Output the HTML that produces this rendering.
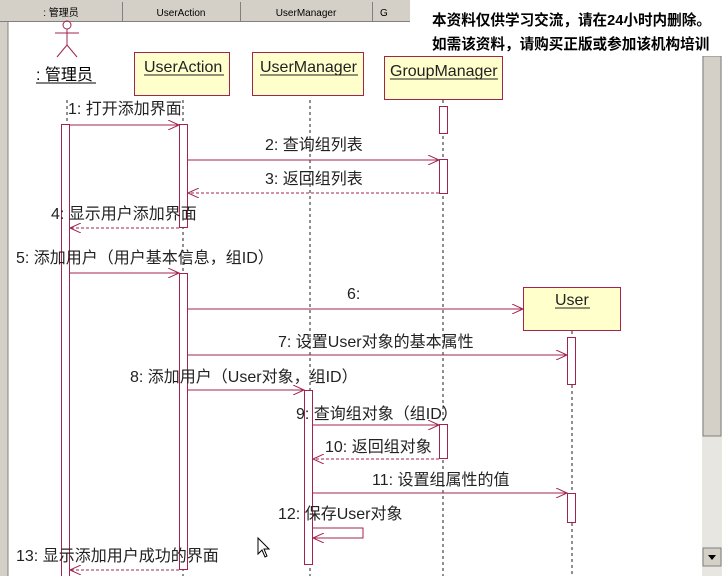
<!DOCTYPE html>
<html><head><meta charset="utf-8"><style>
html,body{margin:0;padding:0;width:722px;height:576px;overflow:hidden;background:#fff}
svg{display:block}
text{font-family:"Liberation Sans","Noto Sans CJK SC",sans-serif}
</style></head><body>
<svg width="722" height="576" viewBox="0 0 722 576" xmlns="http://www.w3.org/2000/svg">
<defs>
<marker id="a" markerWidth="12" markerHeight="10" refX="11" refY="5" orient="auto" markerUnits="userSpaceOnUse"><path d="M0,0 L11,5 L0,10" fill="none" stroke="#a3234f" stroke-width="1"/></marker>
</defs>
<rect width="722" height="576" fill="#fff"/>
<rect x="0" y="0" width="8" height="576" fill="#d4d0c8"/>
<line x1="8" y1="22" x2="8" y2="576" stroke="#808080"/>
<rect x="0" y="0" width="722" height="22" fill="#d4d0c8"/>
<line x1="0" y1="21.5" x2="722" y2="21.5" stroke="#808080"/>
<line x1="122.5" y1="2" x2="122.5" y2="21" stroke="#808080"/><line x1="240.5" y1="2" x2="240.5" y2="21" stroke="#808080"/><line x1="372.5" y1="2" x2="372.5" y2="21" stroke="#808080"/>
<text x="61" y="16" font-size="10" text-anchor="middle">: 管理员</text>
<text x="181" y="16" font-size="10" text-anchor="middle">UserAction</text>
<text x="306" y="16" font-size="10" text-anchor="middle">UserManager</text>
<text x="380" y="16" font-size="10">G</text>
<rect x="702" y="55" width="20" height="521" fill="#e8e6e0"/>
<rect x="703" y="56" width="18" height="380" fill="#d4d0c8" stroke="#808080"/>
<rect x="703" y="548" width="18" height="18" fill="#d4d0c8" stroke="#808080"/>
<path d="M708,555 L716,555 L712,560Z" fill="#000"/>
<rect x="410" y="0" width="312" height="56" fill="#fff"/>
<text x="432" y="25" font-size="14.6" font-weight="bold" font-family="Noto Serif CJK SC,serif">本资料仅供学习交流，请在24小时内删除。</text>
<text x="432" y="49" font-size="14.6" font-weight="bold" font-family="Noto Serif CJK SC,serif">如需该资料，请购买正版或参加该机构培训</text>
<g stroke="#a3234f" fill="none">
<circle cx="67" cy="25" r="4"/>
<line x1="67" y1="29" x2="67" y2="45"/><line x1="55" y1="33" x2="79" y2="33"/>
<line x1="67" y1="45" x2="57" y2="57"/><line x1="67" y1="45" x2="77" y2="57"/>
</g>
<text x="36" y="80" font-size="16">: 管理员</text><line x1="36" y1="83" x2="96" y2="83" stroke="#000"/>
<g stroke="#a3234f" fill="#ffffcc">
<rect x="134.5" y="52.5" width="95" height="43"/>
<rect x="252.5" y="52.5" width="111" height="43"/>
<rect x="384.5" y="56.5" width="118" height="43"/>
<rect x="523.5" y="287.5" width="97" height="43"/>
</g>
<g font-size="16" fill="#222">
<text x="144" y="72">UserAction</text><line x1="144" y1="75" x2="224" y2="75" stroke="#222"/>
<text x="260" y="72">UserManager</text><line x1="260" y1="75" x2="358" y2="75" stroke="#222"/>
<text x="390" y="76">GroupManager</text><line x1="390" y1="79" x2="498" y2="79" stroke="#222"/>
<text x="555" y="305">User</text><line x1="555" y1="308" x2="590" y2="308" stroke="#222"/>
</g>
<g stroke="#222" stroke-dasharray="3,3">
<line x1="67" y1="100" x2="67" y2="576"/>
<line x1="183" y1="100" x2="183" y2="576"/>
<line x1="310" y1="100" x2="310" y2="576"/>
<line x1="443" y1="100" x2="443" y2="576"/>
<line x1="572" y1="331" x2="572" y2="576"/>
</g>
<g stroke="#a3234f" fill="#fff">
<rect x="61.5" y="124.5" width="8" height="460"/>
<rect x="179.5" y="124.5" width="8" height="103"/>
<rect x="179.5" y="273.5" width="8" height="296"/>
<rect x="304.5" y="390.5" width="8" height="174"/>
<rect x="439.5" y="106.5" width="8" height="27"/>
<rect x="439.5" y="159.5" width="8" height="34"/>
<rect x="439.5" y="424.5" width="8" height="34"/>
<rect x="567.5" y="337.5" width="8" height="47"/>
<rect x="567.5" y="493.5" width="8" height="29"/>
</g>
<g stroke="#a3234f" fill="none" marker-end="url(#a)">
<line x1="70" y1="125" x2="179" y2="125"/>
<line x1="188" y1="160" x2="439" y2="160"/>
<line x1="439" y1="193" x2="188" y2="193" stroke-dasharray="3,2"/>
<line x1="179" y1="228" x2="70" y2="228" stroke-dasharray="3,2"/>
<line x1="70" y1="273" x2="179" y2="273"/>
<line x1="188" y1="309" x2="523" y2="309"/>
<line x1="188" y1="355" x2="567" y2="355"/>
<line x1="188" y1="390" x2="304" y2="390"/>
<line x1="313" y1="425" x2="439" y2="425"/>
<line x1="439" y1="459" x2="313" y2="459" stroke-dasharray="3,2"/>
<line x1="313" y1="493" x2="567" y2="493"/>
<polyline points="313,528 363,528 363,538 313,538"/>
<line x1="179" y1="570" x2="70" y2="570" stroke-dasharray="3,2"/>
</g>
<g font-size="16" fill="#222">
<text x="68" y="114">1: 打开添加界面</text>
<text x="265" y="150">2: 查询组列表</text>
<text x="265" y="184">3: 返回组列表</text>
<text x="51" y="219">4: 显示用户添加界面</text>
<text x="16" y="263">5: 添加用户（用户基本信息，组ID）</text>
<text x="347" y="299">6:</text>
<text x="278" y="347">7: 设置User对象的基本属性</text>
<text x="130" y="382">8: 添加用户（User对象，组ID）</text>
<text x="296" y="419">9: 查询组对象（组ID）</text>
<text x="325" y="452">10: 返回组对象</text>
<text x="372" y="485">11: 设置组属性的值</text>
<text x="278" y="519">12: 保存User对象</text>
<text x="16" y="561">13: 显示添加用户成功的界面</text>
</g>
<path d="M258,538 L258,554 L262,550 L265,557 L267,556 L264,549 L269,549Z" fill="#fff" stroke="#000"/>
</svg>
</body></html>
